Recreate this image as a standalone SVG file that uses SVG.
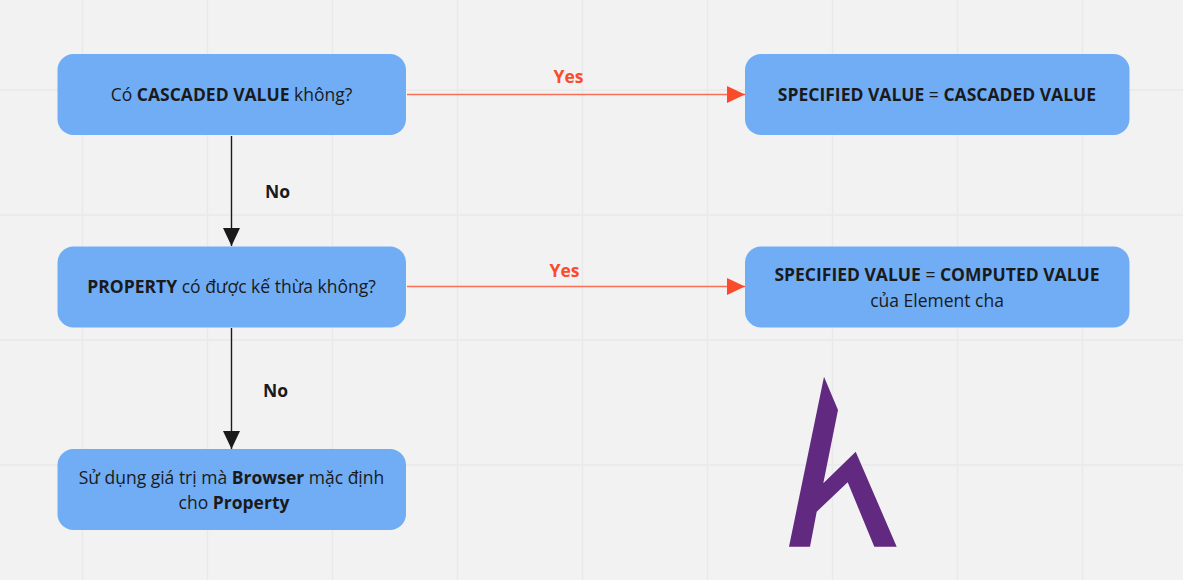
<svg xmlns="http://www.w3.org/2000/svg" width="1183" height="580" viewBox="0 0 1183 580">
<style>
text{font-family:"Open Sans","Noto Sans","Liberation Sans",sans-serif;font-size:17.5px;fill:#1a1a1a;text-anchor:middle}
.b{font-weight:700}
.box{fill:#70adf5}
.g{stroke:#e9e9e9;stroke-width:1.5;fill:none}
.y{fill:#fa4c2a;font-weight:700}
.n{font-weight:700}
.cy{stroke:#fa6f55;stroke-width:1.6;fill:none}
.cn{stroke:#1a1a1a;stroke-width:1.4;fill:none}
</style>
<defs>
<marker id="ay" markerUnits="userSpaceOnUse" markerWidth="18" markerHeight="18" refX="18" refY="9" orient="auto"><path d="M0 0.5L18 9L0 17.5Z" fill="#fa4c2a"/></marker>
<marker id="an" markerUnits="userSpaceOnUse" markerWidth="18" markerHeight="18" refX="18" refY="9" orient="auto"><path d="M0 0.5L18 9L0 17.5Z" fill="#1a1a1a"/></marker>
</defs>
<rect width="1183" height="580" fill="#f2f2f2"/>
<g id="grid">
<path class="g" d="M82.500 0V580M207.500 0V580M332.500 0V580M457.500 0V580M582.500 0V580M707.500 0V580M832.500 0V580M957.500 0V580M1082.500 0V580M0 90H1183M0 215H1183M0 340H1183M0 465H1183"/>
</g>
<g id="connectors">
<path class="cy" d="M407 94.500H745" marker-end="url(#ay)"/>
<path class="cy" d="M407 286.500H745" marker-end="url(#ay)"/>
<path class="cn" d="M231.500 136V246" marker-end="url(#an)"/>
<path class="cn" d="M231.500 328V449" marker-end="url(#an)"/>
<text class="y" x="568.500" y="83">Yes</text>
<text class="y" x="564.500" y="277">Yes</text>
<text class="n" x="277.500" y="198">No</text>
<text class="n" x="275.500" y="397">No</text>
</g>
<g id="n1"><rect class="box" x="57.500" y="54" width="348.500" height="81" rx="16"/>
<text x="231.500" y="101"><tspan>Có </tspan><tspan class="b">CASCADED VALUE</tspan><tspan> không?</tspan></text></g>
<g id="n2"><rect class="box" x="57.500" y="246.500" width="348.500" height="81" rx="16"/>
<text x="231.500" y="293"><tspan class="b">PROPERTY</tspan><tspan> có được kế thừa không?</tspan></text></g>
<g id="n3"><rect class="box" x="57.500" y="449" width="348.500" height="81" rx="16"/>
<text x="231.500" y="483.500"><tspan>Sử dụng giá trị mà </tspan><tspan class="b">Browser</tspan><tspan> mặc định</tspan></text>
<text x="234" y="509"><tspan>cho </tspan><tspan class="b">Property</tspan></text></g>
<g id="n4"><rect class="box" x="745" y="54" width="384.500" height="81" rx="16"/>
<text x="937" y="101"><tspan class="b">SPECIFIED VALUE</tspan><tspan> = </tspan><tspan class="b">CASCADED VALUE</tspan></text></g>
<g id="n5"><rect class="box" x="745" y="246.500" width="384.500" height="81" rx="16"/>
<text x="937" y="281"><tspan class="b">SPECIFIED VALUE</tspan><tspan> = </tspan><tspan class="b">COMPUTED VALUE</tspan></text>
<text x="937" y="306.500">của Element cha</text></g>
<polygon id="logo" fill="#612a80" points="824,376.700 838,410 823.300,483.300 855.700,451.700 896.700,546.700 874.300,546.700 847.700,482.300 816.700,511.700 810,546.700 789,546.700"/>
</svg>
